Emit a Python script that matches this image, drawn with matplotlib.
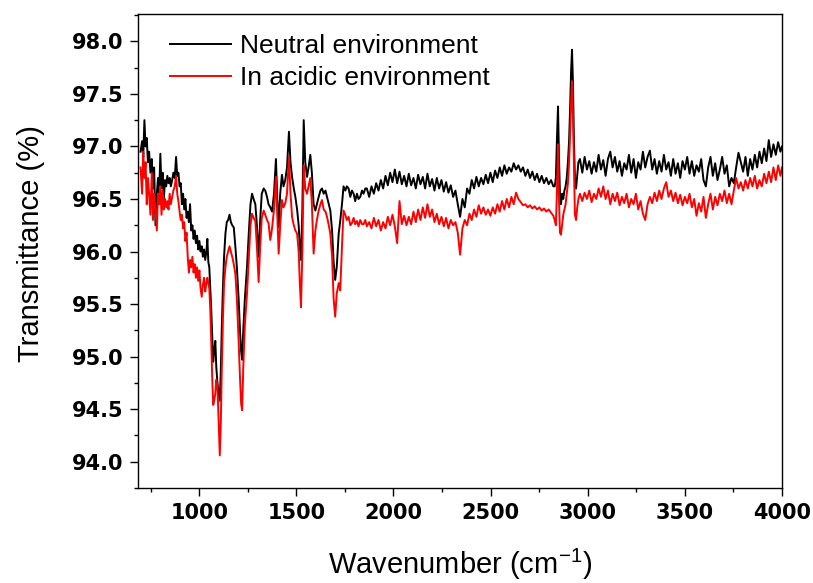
import numpy as np
import matplotlib
matplotlib.use('Agg')
import matplotlib.pyplot as plt
from matplotlib.ticker import MultipleLocator, FormatStrFormatter

# FTIR spectra, split into wavenumber ranges
# fingerprint region start
wn_a = [698, 706, 712, 718, 724, 730, 736, 742, 749, 756, 762, 768, 775, 782, 788, 794,
        800, 806, 812, 818, 824, 830, 836, 842, 848, 854, 861, 867, 874, 881, 887, 893,
        899, 905, 911, 917, 923, 929, 935, 941, 947, 953, 959, 965, 971, 977, 983, 989,
        995, 1001, 1007, 1013, 1019, 1025, 1031, 1037, 1042, 1047]
neutral_a = [96.95, 97.05, 96.90, 97.25, 97.00, 97.08, 96.85, 96.95,
             96.75, 96.88, 96.60, 96.80, 96.25, 96.55, 96.70, 96.55,
             96.93, 96.60, 96.75, 96.50, 96.68, 96.62, 96.72, 96.65,
             96.70, 96.62, 96.68, 96.75, 96.70, 96.90, 96.72, 96.75,
             96.62, 96.65, 96.45, 96.55, 96.40, 96.50, 96.32, 96.38,
             96.28, 96.45, 96.20, 96.25, 96.12, 96.20, 96.08, 96.15,
             96.02, 96.10, 96.00, 96.05, 95.95, 96.02, 95.92, 96.00,
             96.12, 95.90]
acidic_a = [96.80, 96.55, 96.95, 96.70, 96.85, 96.45, 96.70, 96.55,
            96.35, 96.75, 96.30, 96.55, 96.40, 96.20, 96.55, 96.45,
            96.62, 96.35, 96.58, 96.40, 96.50, 96.42, 96.48, 96.40,
            96.55, 96.45, 96.52, 96.58, 96.62, 96.72, 96.55, 96.48,
            96.38, 96.30, 96.35, 96.22, 96.28, 96.10, 96.18, 95.95,
            95.80, 95.92, 95.85, 95.95, 95.80, 95.88, 95.75, 95.85,
            95.72, 95.82, 95.65, 95.57, 95.68, 95.75, 95.62, 95.70,
            95.75, 95.70]

# the two big C-O bands
wn_b = [1052, 1057, 1062, 1067, 1072, 1077, 1083, 1088, 1094, 1100, 1106, 1111, 1116, 1122,
        1128, 1135, 1142, 1149, 1156, 1163, 1170, 1178, 1186, 1194, 1203, 1210, 1216, 1221]
neutral_b = [95.85, 95.65, 95.45, 95.20, 94.95, 95.05, 95.15, 94.90, 94.75, 94.65, 94.58, 94.85, 95.25, 95.65,
             95.95, 96.17, 96.28, 96.30, 96.35, 96.28, 96.25, 96.23, 96.05, 95.85, 95.55, 95.25, 95.05, 94.97]
acidic_b = [95.65, 95.45, 95.15, 94.80, 94.54, 94.58, 94.65, 94.78, 94.72, 94.40, 94.06, 94.35, 94.85, 95.35,
            95.70, 95.85, 95.95, 96.00, 96.05, 96.00, 95.95, 95.88, 95.79, 95.55, 95.15, 94.80, 94.55, 94.49]

# 1230 - 1870
wn_c = [1227, 1235, 1246, 1256, 1264, 1272, 1280, 1289, 1297, 1306,
        1314, 1322, 1332, 1340, 1349, 1357, 1366, 1375, 1385, 1395,
        1402, 1409, 1417, 1426, 1434, 1443, 1452, 1462, 1470, 1478,
        1487, 1495, 1504, 1512, 1518, 1524, 1531, 1538, 1546, 1555,
        1563, 1572, 1580, 1589, 1598, 1606, 1615, 1624, 1632, 1641,
        1650, 1658, 1667, 1675, 1684, 1692, 1700, 1708, 1718, 1726,
        1735, 1743, 1752, 1760, 1769, 1778, 1786, 1795, 1803, 1812,
        1820, 1829, 1838, 1846, 1855, 1863]
neutral_c = [95.25, 95.55, 95.85, 96.20, 96.45, 96.55, 96.50, 96.45, 96.25, 95.95,
             96.30, 96.55, 96.60, 96.58, 96.52, 96.45, 96.42, 96.38, 96.55, 96.88,
             96.50, 96.23, 96.55, 96.73, 96.62, 96.68, 96.80, 97.14, 96.85, 96.71,
             96.60, 96.52, 96.40, 96.25, 96.05, 95.92, 96.40, 97.25, 96.85, 96.71,
             96.80, 96.92, 96.75, 96.45, 96.39, 96.45, 96.52, 96.58, 96.60, 96.55,
             96.58, 96.52, 96.45, 96.39, 96.20, 95.90, 95.73, 95.85, 96.17, 96.29,
             96.45, 96.62, 96.58, 96.62, 96.60, 96.52, 96.58, 96.55, 96.48, 96.55,
             96.50, 96.52, 96.58, 96.55, 96.60, 96.60]
acidic_c = [94.90, 95.30, 95.60, 95.95, 96.25, 96.36, 96.32, 96.29, 96.05, 95.71,
            96.05, 96.32, 96.39, 96.35, 96.30, 96.27, 96.11, 96.22, 96.40, 96.71,
            96.35, 95.98, 96.25, 96.49, 96.42, 96.46, 96.55, 96.90, 96.55, 96.33,
            96.25, 96.20, 96.17, 96.00, 95.70, 95.47, 96.00, 96.82, 96.60, 96.55,
            96.62, 96.70, 96.45, 95.98, 96.20, 96.30, 96.39, 96.45, 96.49, 96.40,
            96.38, 96.33, 96.25, 96.17, 95.95, 95.55, 95.38, 95.60, 95.70, 95.63,
            96.05, 96.39, 96.35, 96.30, 96.33, 96.25, 96.27, 96.32, 96.26, 96.29,
            96.24, 96.30, 96.26, 96.26, 96.30, 96.24]

# flat noisy stretch up to the C-H bands
wn_d = [1875, 1887, 1899, 1911, 1923, 1935, 1947, 1959, 1971, 1983,
        1995, 2007, 2019, 2031, 2043, 2055, 2067, 2079, 2091, 2103,
        2115, 2127, 2139, 2151, 2163, 2175, 2187, 2199, 2211, 2223,
        2235, 2247, 2259, 2271, 2283, 2295, 2307, 2319, 2331, 2343,
        2355, 2367, 2379, 2391, 2403, 2415, 2427, 2439, 2451, 2463,
        2475, 2487, 2499, 2511, 2523, 2535, 2547, 2559, 2571, 2583,
        2595, 2607, 2619, 2631, 2643, 2655, 2667, 2679, 2691, 2703,
        2715, 2727, 2739, 2751, 2763, 2775, 2787, 2799, 2811, 2823]
neutral_d = [96.52, 96.62, 96.55, 96.65, 96.58, 96.68, 96.60, 96.72, 96.63, 96.75,
             96.66, 96.78, 96.65, 96.76, 96.64, 96.72, 96.62, 96.74, 96.63, 96.70,
             96.60, 96.73, 96.64, 96.71, 96.60, 96.74, 96.62, 96.69, 96.58, 96.70,
             96.60, 96.68, 96.57, 96.66, 96.56, 96.63, 96.52, 96.58, 96.45, 96.33,
             96.50, 96.42, 96.60, 96.55, 96.68, 96.60, 96.71, 96.62, 96.70, 96.64,
             96.73, 96.65, 96.75, 96.66, 96.77, 96.70, 96.80, 96.72, 96.82, 96.74,
             96.80, 96.76, 96.84, 96.78, 96.82, 96.76, 96.80, 96.72, 96.78, 96.70,
             96.76, 96.68, 96.74, 96.66, 96.72, 96.65, 96.70, 96.64, 96.68, 96.62]
acidic_d = [96.28, 96.22, 96.32, 96.24, 96.30, 96.20, 96.28, 96.22, 96.33, 96.25,
            96.35, 96.24, 96.08, 96.48, 96.26, 96.34, 96.25, 96.33, 96.26, 96.38,
            96.28, 96.40, 96.30, 96.42, 96.32, 96.45, 96.33, 96.40, 96.28, 96.36,
            96.26, 96.33, 96.24, 96.32, 96.22, 96.30, 96.25, 96.28, 96.18, 95.97,
            96.22, 96.30, 96.25, 96.36, 96.30, 96.40, 96.33, 96.44, 96.36, 96.42,
            96.35, 96.40, 96.34, 96.42, 96.36, 96.45, 96.38, 96.48, 96.40, 96.50,
            96.42, 96.52, 96.45, 96.56, 96.50, 96.47, 96.44, 96.45, 96.42, 96.44,
            96.41, 96.43, 96.40, 96.42, 96.39, 96.41, 96.38, 96.40, 96.37, 96.34]

# C-H stretching peaks
wn_e = [2830, 2836, 2842, 2847, 2852, 2857, 2862, 2868, 2874, 2880, 2886, 2892,
        2898, 2904, 2909, 2914, 2919, 2924, 2929, 2934, 2940, 2946, 2952]
neutral_e = [96.62, 96.70, 97.10, 97.38, 96.90, 96.55, 96.45, 96.55, 96.50, 96.58, 96.62, 96.70,
             96.85, 97.05, 97.35, 97.70, 97.92, 97.60, 97.05, 96.70, 96.60, 96.72, 96.85]
acidic_e = [96.30, 96.25, 96.60, 97.02, 96.50, 96.18, 96.16, 96.25, 96.35, 96.40, 96.45, 96.55,
            96.65, 96.85, 97.10, 97.40, 97.62, 97.30, 96.80, 96.35, 96.30, 96.42, 96.50]

# high wavenumber tail
wn_f = [2960, 2972, 2984, 2996, 3008, 3020, 3032, 3044, 3056, 3068,
        3080, 3092, 3104, 3116, 3128, 3140, 3152, 3164, 3176, 3188,
        3200, 3212, 3224, 3236, 3248, 3260, 3272, 3284, 3296, 3308,
        3320, 3332, 3344, 3356, 3368, 3380, 3392, 3404, 3416, 3428,
        3440, 3452, 3464, 3476, 3488, 3500, 3512, 3524, 3536, 3548,
        3560, 3572, 3584, 3596, 3608, 3620, 3632, 3644, 3656, 3668,
        3680, 3692, 3704, 3716, 3728, 3740, 3752, 3764, 3776, 3788,
        3800, 3812, 3824, 3836, 3848, 3860, 3872, 3884, 3896, 3908,
        3920, 3932, 3944, 3956, 3968, 3980, 3992, 4000]
neutral_f = [96.88, 96.75, 96.90, 96.78, 96.86, 96.74, 96.85, 96.76, 96.92, 96.78,
             96.87, 96.72, 96.88, 96.95, 96.80, 96.90, 96.76, 96.86, 96.72, 96.84,
             96.78, 96.92, 96.75, 96.88, 96.70, 96.85, 96.78, 96.95, 96.80, 96.90,
             96.96, 96.78, 96.88, 96.74, 96.86, 96.76, 96.92, 96.78, 96.85, 96.72,
             96.88, 96.74, 96.84, 96.70, 96.86, 96.78, 96.90, 96.74, 96.86, 96.72,
             96.82, 96.76, 96.88, 96.68, 96.62, 96.80, 96.90, 96.72, 96.84, 96.68,
             96.78, 96.90, 96.74, 96.82, 96.62, 96.70, 96.65, 96.80, 96.94, 96.85,
             96.76, 96.90, 96.72, 96.88, 96.78, 96.92, 96.80, 96.95, 96.84, 96.98,
             96.86, 97.06, 96.90, 97.02, 96.92, 97.04, 96.95, 97.00]
acidic_f = [96.55, 96.48, 96.56, 96.50, 96.58, 96.47, 96.55, 96.50, 96.60, 96.52,
            96.62, 96.50, 96.58, 96.45, 96.55, 96.48, 96.56, 96.44, 96.52, 96.46,
            96.55, 96.42, 96.50, 96.45, 96.55, 96.40, 96.48, 96.36, 96.30, 96.45,
            96.52, 96.46, 96.56, 96.48, 96.58, 96.50, 96.60, 96.66, 96.52, 96.58,
            96.48, 96.56, 96.46, 96.54, 96.44, 96.52, 96.46, 96.55, 96.42, 96.50,
            96.34, 96.46, 96.38, 96.52, 96.32, 96.45, 96.55, 96.40, 96.52, 96.44,
            96.55, 96.48, 96.58, 96.46, 96.55, 96.45, 96.58, 96.70, 96.60, 96.66,
            96.58, 96.68, 96.60, 96.70, 96.62, 96.72, 96.60, 96.68, 96.62, 96.74,
            96.65, 96.76, 96.66, 96.80, 96.68, 96.82, 96.72, 96.80]

labels = ['Neutral environment', 'In acidic environment']

wn = np.concatenate([wn_a, wn_b, wn_c, wn_d, wn_e, wn_f])
neutral = np.concatenate([neutral_a, neutral_b, neutral_c, neutral_d, neutral_e, neutral_f])
acidic = np.concatenate([acidic_a, acidic_b, acidic_c, acidic_d, acidic_e, acidic_f])

plt.rcParams['font.family'] = ['Liberation Sans', 'DejaVu Sans']
plt.rcParams['mathtext.fontset'] = 'custom'
plt.rcParams['mathtext.rm'] = 'Liberation Sans'
plt.rcParams['mathtext.it'] = 'Liberation Sans'

fig = plt.figure(figsize=(8.13, 5.83), dpi=100)
ax = fig.add_axes([138/813, 1 - 488/583, (782 - 138)/813, (488 - 14)/583])

ax.plot(wn, neutral, color='black', lw=1.4, label=labels[0])
ax.plot(wn, acidic, color='#ff0000', lw=1.4, label=labels[1])

ax.set_xlim(685, 4000)
ax.set_ylim(93.75, 98.26)

ax.xaxis.set_major_locator(MultipleLocator(500))
ax.xaxis.set_minor_locator(MultipleLocator(250))
ax.yaxis.set_major_locator(MultipleLocator(0.5))
ax.yaxis.set_minor_locator(MultipleLocator(0.25))
ax.yaxis.set_major_formatter(FormatStrFormatter('%.1f'))

ax.tick_params(which='both', direction='out', top=False, right=False, width=1.0)
ax.tick_params(which='major', length=5.5, pad=5)
ax.tick_params(which='minor', length=3)
for lab in ax.get_xticklabels() + ax.get_yticklabels():
    lab.set_family('DejaVu Sans')
    lab.set_fontweight('bold')
    lab.set_fontsize(15)
for sp in ax.spines.values():
    sp.set_linewidth(1.0)

ax.set_xlabel(r'Wavenumber (cm$^{\mathregular{-1}}$)', fontsize=21)
ax.set_ylabel('Transmittance (%)', fontsize=21)
ax.xaxis.set_label_coords(0.5, -0.125)
ax.yaxis.set_label_coords(-0.145, 0.516)

ax.legend(loc='upper left', bbox_to_anchor=(0.05, 0.958), frameon=False, fontsize=19,
          handlelength=2.3, handletextpad=0.35, labelspacing=0.3, borderpad=0, borderaxespad=0)

fig.savefig('out.png', dpi=100)
